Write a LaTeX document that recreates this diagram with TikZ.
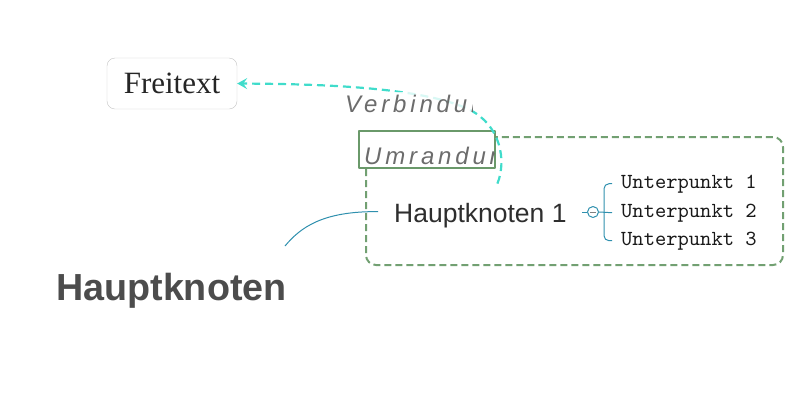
\documentclass[tikz,border=0pt]{standalone}
\usepackage{fontspec}
\usetikzlibrary{arrows.meta}
\setmainfont{Liberation Serif}
\newfontfamily\arialfont{Liberation Sans}
\newfontfamily\spacedfont{Liberation Sans}[LetterSpace=16]
\newfontfamily\courfont{lmmono10-regular}[Extension=.otf]
\definecolor{turq}{HTML}{40DCCB}
\definecolor{framegreen}{HTML}{72A072}
\definecolor{boxgreen}{HTML}{6A996A}
\definecolor{astblue}{HTML}{2F90AE}
\definecolor{boxgray}{HTML}{C4C4C4}
\definecolor{labelgray}{HTML}{6C6C6C}
\begin{document}
\begin{tikzpicture}[x=1pt, y=-1pt, >={Stealth[length=10pt, width=11pt, inset=4pt]}, line join=round,
  freibox/.style={draw=boxgray, rounded corners=8pt, minimum width=130pt, minimum height=51pt, inner sep=0pt, font=\fontsize{31}{32}\selectfont, text=black!85},
  umrbox/.style={draw=boxgreen, line width=2.5pt, fill=white, minimum width=136pt, minimum height=37pt, inner sep=0pt},
  umrframe/.style={draw=framegreen, line width=2pt, dash pattern=on 7pt off 4pt, rounded corners=10pt},
  labeltext/.style={anchor=base west, inner sep=0pt, text=labelgray, font=\spacedfont\itshape\fontsize{24}{26}\selectfont},
  ast/.style={draw=astblue, line width=1pt},
  verb/.style={draw=turq, line width=2.2pt, dash pattern=on 8pt off 5pt},
  subitem/.style={anchor=base west, inner sep=0pt, text=black!90, font=\courfont\fontsize{21.5}{22}\selectfont}]
	\useasboundingbox (0,0) rectangle (800,400);
	% Umrandung
	\draw[umrframe] (366,137) rectangle (783,265);
	\node[umrbox] (umr) at (427,149.5) {};
	\begin{scope}
		\clip (360,131) rectangle (494,167);
		\node[labeltext] (umrtext) at (364,164) {Umrandung};
	\end{scope}
	% Knoten
	\node[freibox] (frei) at (172,83.5) {Freitext};
	\node[anchor=base west, inner xsep=16pt, inner ysep=0pt, text=black!82, font=\arialfont\fontsize{26.5}{28}\selectfont] (h1) at (378,222) {Hauptknoten 1};
	\node[anchor=base west, inner sep=0pt, text=black!70, font=\arialfont\bfseries\fontsize{37.7}{40}\selectfont] (haupt) at (56,300) {Hauptknoten};
	\coordinate (hk) at (285,246);
	\node[subitem] (u1) at (621,188) {Unterpunkt 1};
	\node[subitem] (u2) at (621,217) {Unterpunkt 2};
	\node[subitem] (u3) at (621,245) {Unterpunkt 3};
	\node[circle, draw=astblue, line width=1pt, minimum size=11pt, inner sep=0pt] (fold) at (593,212) {};
	\coordinate (br) at (604,212);
	% Verbindungen
	\draw[ast] (fold.west) -- ++(-5,0);
	\draw[draw=gray, line width=0.8pt] ([xshift=-3pt]fold.center) -- ([xshift=3pt]fold.center);
	\draw[ast] (fold.east) -- ([xshift=-9pt]u2.west);
	\draw[ast, rounded corners=5pt] ([xshift=-9pt]u1.west) -| (br) |- ([xshift=-9pt]u3.west);
	\draw[ast] ([yshift=3.5pt]h1.west) .. controls (322,211) and (300,228) .. (hk);
	\draw[verb, ->] ([xshift=17pt,yshift=19pt]h1.north) .. controls (507,160) and (500,125) .. (470,110) .. controls (420,85) and (300,84) .. (frei.east);
	\begin{scope}
		\clip (340,92) rectangle (472,118);
		\fill[white, opacity=0.8] (340,92) rectangle (472,118);
		\node[labeltext] (verbtext) at (345,112) {Verbindung};
	\end{scope}
\end{tikzpicture}
\end{document}
